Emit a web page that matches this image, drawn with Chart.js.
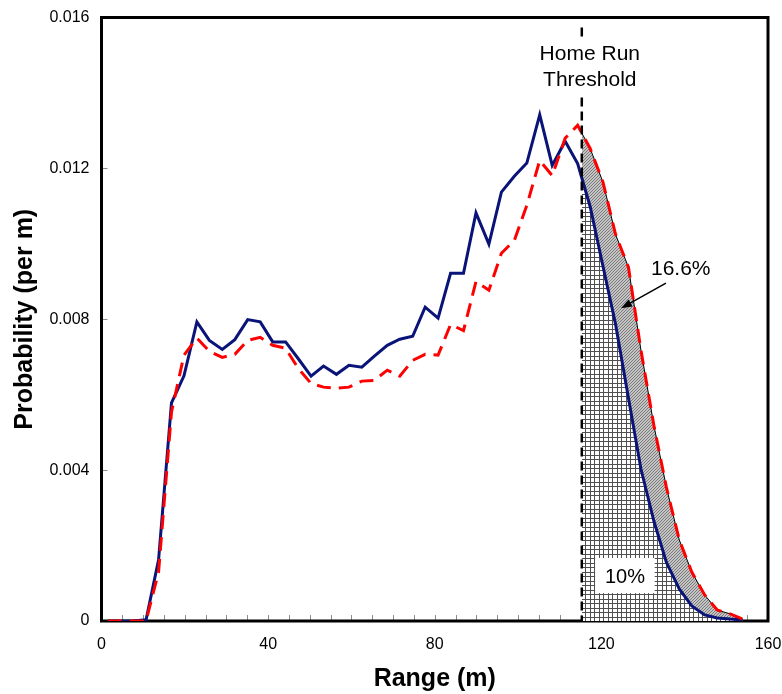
<!DOCTYPE html>
<html>
<head>
<meta charset="utf-8">
<script src="https://cdn.jsdelivr.net/npm/chart.js@4.4.1/dist/chart.umd.min.js"></script>
<style>
  html, body { margin: 0; padding: 0; background: #fff; }
  #chart { display: block; }
</style>
</head>
<body>
<canvas id="chart" width="782" height="694"></canvas>
<script>
// range bins are 10 ft wide, plotted at the bin centres (m)
const rangeM = [1.5, 4.6, 7.6, 10.7, 13.7, 16.8, 19.8, 22.9, 25.9, 29.0,
                32.0, 35.1, 38.1, 41.1, 44.2, 47.2, 50.3, 53.3, 56.4, 59.4,
                62.5, 65.5, 68.6, 71.6, 74.7, 77.7, 80.8, 83.8, 86.9, 89.9,
                93.0, 96.0, 99.1, 102.1, 105.2, 108.2, 111.3, 114.3, 117.3, 120.4,
                123.4, 126.5, 129.5, 132.6, 135.6, 138.7, 141.7, 144.8, 147.8, 150.9,
                153.9];

// solid blue curve
const baseProb = [0, 0, 0, 0.00003, 0.00162, 0.00578, 0.00650, 0.00793, 0.00744, 0.00720,
                  0.00746, 0.00799, 0.00793, 0.00740, 0.00740, 0.00696, 0.00649, 0.00676, 0.00654, 0.00678,
                  0.00673, 0.00702, 0.00731, 0.00747, 0.00755, 0.00832, 0.00803, 0.00922, 0.00922, 0.01082,
                  0.00999, 0.01137, 0.01179, 0.01214, 0.01342, 0.01208, 0.01272, 0.01213, 0.01099, 0.00940,
                  0.00787, 0.00591, 0.00403, 0.00265, 0.00156, 0.00085, 0.00040, 0.00016, 0.00008, 0.00005,
                  0.00003];

// dashed red curve
const shiftedProb = [0, 0, 0, 0, 0.00130, 0.00554, 0.00705, 0.00750, 0.00715, 0.00699,
                     0.00707, 0.00744, 0.00752, 0.00731, 0.00723, 0.00670, 0.00630, 0.00620, 0.00617, 0.00620,
                     0.00636, 0.00638, 0.00665, 0.00649, 0.00691, 0.00707, 0.00705, 0.00786, 0.00770, 0.00900,
                     0.00877, 0.00975, 0.01009, 0.01102, 0.01221, 0.01181, 0.01280, 0.01314, 0.01253, 0.01163,
                     0.01025, 0.00938, 0.00718, 0.00519, 0.00355, 0.00215, 0.00130, 0.00069, 0.00029, 0.00019,
                     0.00005];

const xTicks = [0, 40, 80, 120, 160];
const yTicks = [0, 0.004, 0.008, 0.012, 0.016];
const thresholdM = 115.3;
const thresholdText = ['Home Run', 'Threshold'];
const shareBase = '10%';
const shareShifted = '16.6%';

const FONT = "'Liberation Sans', Arial, Helvetica, sans-serif";

function valueAt(xs, ys, x0) {
  for (let i = 1; i < xs.length; i++) {
    if (xs[i] >= x0) {
      const t = (x0 - xs[i - 1]) / (xs[i] - xs[i - 1]);
      return ys[i - 1] + t * (ys[i] - ys[i - 1]);
    }
  }
  return ys[ys.length - 1];
}

function tailFrom(xs, ys, x0) {
  const pts = [{ x: x0, y: valueAt(xs, ys, x0) }];
  xs.forEach((x, i) => { if (x > x0) pts.push({ x: x, y: ys[i] }); });
  return pts;
}

const canvas = document.getElementById('chart');
const ctx = canvas.getContext('2d');

function gridPattern() {
  const c = document.createElement('canvas');
  c.width = 9; c.height = 9;
  const g = c.getContext('2d');
  g.fillStyle = '#fff'; g.fillRect(0, 0, 9, 9);
  g.fillStyle = '#505050';
  g.fillRect(0, 0, 9, 1); g.fillRect(0, 5, 9, 1);
  g.fillRect(0, 0, 1, 9); g.fillRect(5, 0, 1, 9);
  return ctx.createPattern(c, 'repeat');
}

function hatchPattern() {
  const c = document.createElement('canvas');
  c.width = 3; c.height = 3;
  const g = c.getContext('2d');
  g.fillStyle = '#c4c4c4'; g.fillRect(0, 0, 3, 3);
  g.fillStyle = '#7a7a7a';
  for (let i = 0; i < 3; i++) g.fillRect(i, 2 - i, 1, 1);
  return ctx.createPattern(c, 'repeat');
}

const toPts = ys => rangeM.map((x, i) => ({ x: x, y: ys[i] }));

const decor = {
  id: 'decor',
  beforeDatasetsDraw(chart) {
    const { ctx, chartArea: a, scales: { x, y } } = chart;
    ctx.save();
    ctx.strokeStyle = '#8c8c8c';
    ctx.lineWidth = 1;
    ctx.beginPath();
    for (let v = 5; v < 160; v += 5) {
      const px = Math.round(x.getPixelForValue(v)) + 0.5;
      ctx.moveTo(px, a.bottom);
      ctx.lineTo(px, a.bottom - 6);
    }
    yTicks.slice(1, -1).forEach(v => {
      const py = Math.round(y.getPixelForValue(v)) + 0.5;
      ctx.moveTo(a.left, py);
      ctx.lineTo(a.left + 6, py);
    });
    ctx.stroke();
    ctx.lineWidth = 3;
    ctx.strokeStyle = '#000';
    ctx.strokeRect(a.left, a.top, a.right - a.left, a.bottom - a.top);
    ctx.restore();
  },
  afterDatasetsDraw(chart) {
    const { ctx, chartArea: a, scales: { x, y } } = chart;
    const tx = x.getPixelForValue(thresholdM);
    ctx.save();

    // threshold line
    ctx.strokeStyle = '#000';
    ctx.lineWidth = 2.5;
    ctx.setLineDash([9, 5]);
    ctx.beginPath();
    ctx.moveTo(tx, a.top + 10);
    ctx.lineTo(tx, a.bottom);
    ctx.stroke();
    ctx.setLineDash([]);

    ctx.font = '21px ' + FONT;
    ctx.textAlign = 'center';
    ctx.textBaseline = 'alphabetic';
    const cx = tx + 8;
    ctx.fillStyle = '#fff';
    ctx.fillRect(cx - 55, a.top + 23, 110, 55);
    ctx.fillStyle = '#000';
    ctx.fillText(thresholdText[0], cx, a.top + 42);
    ctx.fillText(thresholdText[1], cx, a.top + 68);

    // 16.6% label and arrow
    ctx.textAlign = 'left';
    const lx = x.getPixelForValue(131.9), ly = y.getPixelForValue(0.00917);
    ctx.fillText(shareShifted, lx, ly);
    const sx = lx + 15, sy = ly + 8;
    const ex = x.getPixelForValue(124.7), ey = y.getPixelForValue(0.00829);
    const ang = Math.atan2(ey - sy, ex - sx);
    ctx.strokeStyle = '#000';
    ctx.lineWidth = 1.5;
    ctx.beginPath();
    ctx.moveTo(sx, sy);
    ctx.lineTo(ex - 8 * Math.cos(ang), ey - 8 * Math.sin(ang));
    ctx.stroke();
    ctx.beginPath();
    ctx.moveTo(ex, ey);
    ctx.lineTo(ex - 11 * Math.cos(ang) + 4 * Math.sin(ang), ey - 11 * Math.sin(ang) - 4 * Math.cos(ang));
    ctx.lineTo(ex - 11 * Math.cos(ang) - 4 * Math.sin(ang), ey - 11 * Math.sin(ang) + 4 * Math.cos(ang));
    ctx.closePath();
    ctx.fill();

    // 10% box
    const bx0 = x.getPixelForValue(118.5), bx1 = x.getPixelForValue(132.8);
    const by0 = y.getPixelForValue(0.00167), by1 = y.getPixelForValue(0.00074);
    ctx.fillStyle = '#fff';
    ctx.fillRect(bx0, by0, bx1 - bx0, by1 - by0);
    ctx.fillStyle = '#000';
    ctx.font = '20px ' + FONT;
    ctx.textAlign = 'center';
    ctx.fillText(shareBase, (bx0 + bx1) / 2, by1 - 10);

    ctx.restore();
  }
};

new Chart(ctx, {
  type: 'line',
  data: {
    datasets: [
      {
        label: 'below blue',
        data: tailFrom(rangeM, baseProb, thresholdM),
        borderWidth: 0,
        pointRadius: 0,
        fill: 'origin',
        backgroundColor: gridPattern(),
        order: 3
      },
      {
        label: 'between curves',
        data: tailFrom(rangeM, shiftedProb, thresholdM),
        borderColor: '#000',
        borderWidth: 1,
        pointRadius: 0,
        fill: '-1',
        backgroundColor: hatchPattern(),
        order: 2
      },
      {
        label: 'solid',
        data: toPts(baseProb),
        borderColor: '#0a1478',
        borderWidth: 3,
        pointRadius: 0,
        fill: false,
        order: 1
      },
      {
        label: 'dashed',
        data: toPts(shiftedProb),
        borderColor: '#ff0000',
        borderWidth: 3,
        borderDash: [14, 8],
        pointRadius: 0,
        fill: false,
        order: 0
      }
    ]
  },
  options: {
    responsive: false,
    animation: false,
    devicePixelRatio: 1,
    layout: { padding: { left: 0, right: 14, top: 17.5, bottom: 0 } },
    plugins: {
      legend: { display: false },
      tooltip: { enabled: false }
    },
    scales: {
      x: {
        type: 'linear',
        min: 0,
        max: 160,
        afterBuildTicks: s => { s.ticks = xTicks.map(v => ({ value: v })); },
        afterFit: s => { s.height = 73; s.paddingLeft = 0; s.paddingRight = 0; },
        grid: { display: false, drawTicks: false },
        border: { display: false },
        ticks: { color: '#000', font: { size: 16, family: FONT }, padding: 14, maxRotation: 0 },
        title: {
          display: true,
          text: 'Range (m)',
          color: '#000',
          font: { size: 25, weight: 'bold', family: FONT, lineHeight: 1 },
          padding: { top: 0, bottom: 2 }
        }
      },
      y: {
        min: 0,
        max: 0.016,
        afterBuildTicks: s => { s.ticks = yTicks.map(v => ({ value: v })); },
        afterFit: s => { s.width = 101.5; s.paddingTop = 0; s.paddingBottom = 0; },
        grid: { display: false, drawTicks: false },
        border: { display: false },
        ticks: {
          color: '#000',
          font: { size: 16, family: FONT },
          padding: 12,
          callback: v => v === 0 ? '0' : v.toFixed(3)
        },
        title: {
          display: true,
          text: 'Probability (per m)',
          color: '#000',
          font: { size: 25, weight: 'bold', family: FONT, lineHeight: 1 },
          padding: { top: 13, bottom: 0 }
        }
      }
    }
  },
  plugins: [decor]
});
</script>
</body>
</html>
